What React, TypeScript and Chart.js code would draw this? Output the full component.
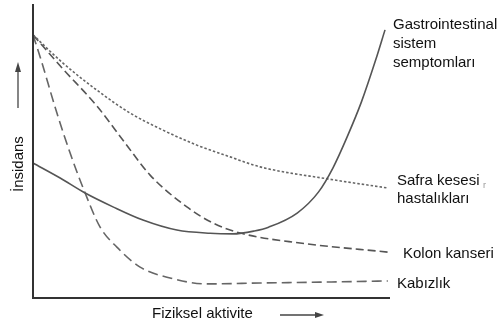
import { useEffect, useRef } from 'react';
import { Chart, registerables } from 'chart.js';

Chart.register(...registerables);

// Activity (x, 0..100) and incidence (y, 0..100), arbitrary units
const giX = [0, 7.6, 14.6, 22.4, 30.8, 40.3, 49.6, 56.0, 62.0, 66.0, 74.0, 80.0, 84.0, 88.0, 92.0, 96.0, 98.6];
const giY = [45.9, 40.8, 35.7, 31.0, 26.5, 23.1, 22.0, 21.8, 22.8, 24.1, 28.9, 36.1, 44.2, 54.8, 66.7, 81.0, 91.2];

const safraX = [0, 8.4, 17.9, 27.2, 36.4, 45.9, 55.2, 63.6, 82.6, 99.4];
const safraY = [89.5, 79.9, 70.7, 62.9, 57.1, 52.0, 48.0, 44.6, 40.5, 37.4];

const kolonX = [0, 8.4, 17.9, 25.8, 32.8, 43.1, 50.4, 58.0, 74.8, 99.4];
const kolonY = [89.5, 77.9, 65.3, 52.7, 41.8, 31.0, 25.5, 22.1, 18.7, 15.6];

const kabizX = [0, 2.0, 6.7, 10.4, 14.6, 18.8, 23.5, 30.0, 38.4, 48.7, 63.6, 80.4, 99.4];
const kabizY = [89.5, 82.0, 62.9, 49.3, 35.7, 24.1, 17.3, 10.5, 6.8, 4.8, 5.1, 5.4, 5.8];

const giLabel = ['Gastrointestinal', 'sistem', 'semptomları'];
const safraLabel = ['Safra kesesi', 'hastalıkları'];
const kolonLabel = ['Kolon kanseri'];
const kabizLabel = ['Kabızlık'];
const xTitle = 'Fiziksel aktivite';
const yTitle = 'İnsidans';
const strayMark = 'r';

const FONT = '15px "Liberation Sans", Arial, sans-serif';

function pts(xs: number[], ys: number[]) {
  return xs.map((x, i) => ({ x, y: ys[i] }));
}

const overlay = {
  id: 'overlay',
  afterDraw(chart: any) {
    const { ctx, chartArea } = chart;
    const { left, right, top, bottom } = chartArea;
    ctx.save();
    // axes
    ctx.strokeStyle = '#333';
    ctx.lineWidth = 2;
    ctx.beginPath();
    ctx.moveTo(left, top);
    ctx.lineTo(left, bottom);
    ctx.lineTo(right, bottom);
    ctx.stroke();

    ctx.fillStyle = '#111';
    ctx.font = FONT;
    ctx.textAlign = 'left';
    ctx.textBaseline = 'alphabetic';
    giLabel.forEach((t, i) => ctx.fillText(t, right + 3, 29 + i * 19));
    safraLabel.forEach((t, i) => ctx.fillText(t, right + 7, 185 + i * 18));
    kolonLabel.forEach((t, i) => ctx.fillText(t, right + 13, 258 + i * 18));
    kabizLabel.forEach((t, i) => ctx.fillText(t, right + 7, 288 + i * 18));

    ctx.fillStyle = '#999';
    ctx.font = '9px "Liberation Sans", Arial, sans-serif';
    ctx.fillText(strayMark, right + 93, 188);

    // x title + arrow
    ctx.fillStyle = '#111';
    ctx.font = FONT;
    ctx.fillText(xTitle, 152, 318);
    ctx.strokeStyle = '#444';
    ctx.lineWidth = 1.3;
    ctx.beginPath();
    ctx.moveTo(280, 315);
    ctx.lineTo(318, 315);
    ctx.stroke();
    ctx.fillStyle = '#444';
    ctx.beginPath();
    ctx.moveTo(324, 315);
    ctx.lineTo(315, 312);
    ctx.lineTo(315, 318);
    ctx.closePath();
    ctx.fill();

    // y title + arrow
    ctx.save();
    ctx.translate(23, 192);
    ctx.rotate(-Math.PI / 2);
    ctx.fillStyle = '#111';
    ctx.font = FONT;
    ctx.fillText(yTitle, 0, 0);
    ctx.restore();
    ctx.strokeStyle = '#444';
    ctx.lineWidth = 1.3;
    ctx.beginPath();
    ctx.moveTo(18, 108);
    ctx.lineTo(18, 70);
    ctx.stroke();
    ctx.fillStyle = '#444';
    ctx.beginPath();
    ctx.moveTo(18, 62);
    ctx.lineTo(15, 72);
    ctx.lineTo(21, 72);
    ctx.closePath();
    ctx.fill();
    ctx.restore();
  },
};

export default function App() {
  const ref = useRef<HTMLCanvasElement | null>(null);
  useEffect(() => {
    if (!ref.current) return;
    const common = {
      fill: false,
      pointRadius: 0,
      cubicInterpolationMode: 'monotone' as const,
      borderCapStyle: 'butt' as const,
    };
    const chart = new Chart(ref.current, {
      type: 'line',
      data: {
        datasets: [
          { ...common, label: giLabel.join(' '), data: pts(giX, giY), borderColor: '#555', borderWidth: 1.6 },
          { ...common, label: safraLabel.join(' '), data: pts(safraX, safraY), borderColor: '#666', borderWidth: 1.6, borderDash: [2.5, 2] },
          { ...common, label: kolonLabel[0], data: pts(kolonX, kolonY), borderColor: '#555', borderWidth: 1.6, borderDash: [8, 4] },
          { ...common, label: kabizLabel[0], data: pts(kabizX, kabizY), borderColor: '#666', borderWidth: 1.6, borderDash: [10, 5] },
        ],
      },
      options: {
        responsive: false,
        animation: false,
        layout: { padding: { left: 33, right: 108, top: 4, bottom: 26 } },
        plugins: { legend: { display: false }, tooltip: { enabled: false } },
        scales: {
          x: { type: 'linear', min: 0, max: 100, display: false },
          y: { type: 'linear', min: 0, max: 100, display: false },
        },
        datasets: { line: { clip: false as any } },
      } as any,
      plugins: [overlay],
    });
    return () => chart.destroy();
  }, []);
  return (
    <div style={{ position: 'absolute', left: 0, top: 0, width: 498, height: 324, background: '#fff' }}>
      <canvas ref={ref} width={498} height={324} />
    </div>
  );
}
